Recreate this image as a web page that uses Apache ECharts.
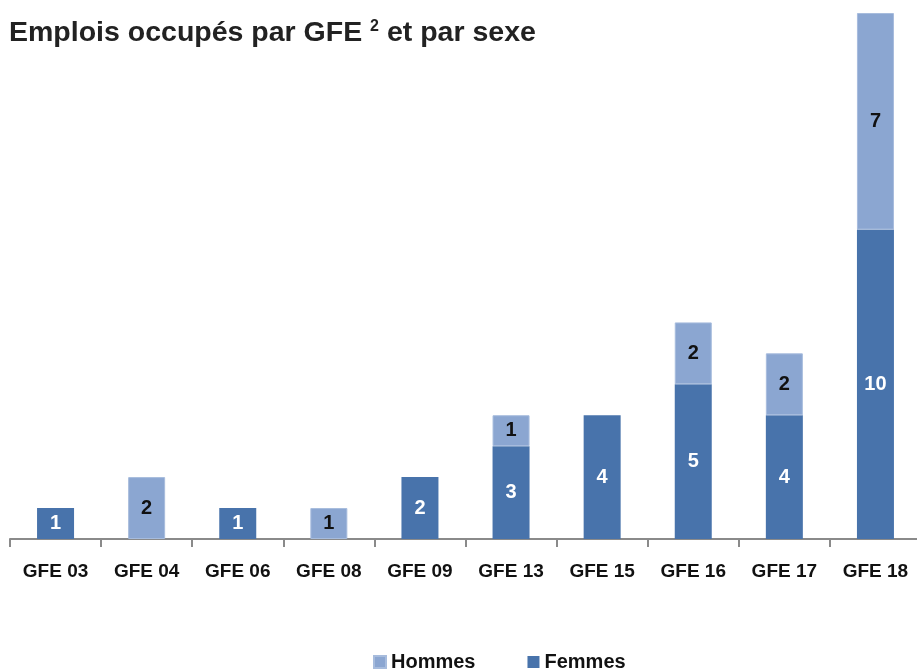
<!DOCTYPE html>
<html>
<head>
<meta charset="utf-8">
<script src="https://cdn.jsdelivr.net/npm/echarts@6/dist/echarts.min.js"></script>
<style>
    html, body { margin: 0; padding: 0; background: #fff; overflow: hidden; }
    #chart { width: 935px; height: 670px; }
</style>
</head>
<body>
<div id="chart"></div>
<script>
    const categories = ['GFE 03', 'GFE 04', 'GFE 06', 'GFE 08', 'GFE 09', 'GFE 13', 'GFE 15', 'GFE 16', 'GFE 17', 'GFE 18'];
    const femmes = [1, null, 1, null, 2, 3, 4, 5, 4, 10];
    const hommes = [null, 2, null, 1, null, 1, null, 2, 2, 7];

    const font = "'Liberation Sans', Arial, sans-serif";

    // the chart runs a bit past the right edge of the window, like the original
    let myChart = echarts.init(document.getElementById('chart'));
    let option = {
        animation: false,
        textStyle: { fontFamily: font },
        title: {
            text: 'Emplois occupés par GFE {sup|2} et par sexe',
            left: 4,
            top: 14,
            textStyle: {
                fontFamily: font,
                fontSize: 28.5,
                fontWeight: 'bold',
                color: '#222',
                rich: {
                    sup: { fontSize: 16, fontWeight: 'bold', color: '#222', verticalAlign: 'top', padding: [0, 0, 13, 0] }
                }
            }
        },
        legend: {
            data: ['Hommes', 'Femmes'],
            bottom: -7,
            left: 368,
            itemGap: 52,
            itemWidth: 12,
            itemHeight: 12,
            icon: 'rect',
            textStyle: { fontFamily: font, fontSize: 20, fontWeight: 'bold', color: '#111' }
        },
        grid: {
            left: 10,
            right: 14,
            top: 13,
            bottom: 131
        },
        xAxis: {
            type: 'category',
            data: categories,
            axisLine: { lineStyle: { color: '#8a8a8a', width: 2 } },
            axisTick: { show: true, length: 8, lineStyle: { color: '#8a8a8a', width: 2 } },
            axisLabel: { fontFamily: font, fontSize: 19, fontWeight: 'bold', color: '#111', margin: 23 }
        },
        yAxis: {
            type: 'value',
            min: 0,
            max: 17,
            show: false,
            splitLine: { show: false }
        },
        series: [{
            name: 'Femmes',
            type: 'bar',
            stack: 'total',
            barWidth: 37,
            data: femmes,
            itemStyle: { color: '#4873AB' },
            label: { show: true, position: 'inside', color: '#fff', fontFamily: font, fontSize: 20, fontWeight: 'bold' }
        }, {
            name: 'Hommes',
            type: 'bar',
            stack: 'total',
            barWidth: 37,
            data: hommes,
            itemStyle: { color: '#8BA6D1', borderColor: '#a7bcdd', borderWidth: 1 },
            label: { show: true, position: 'inside', color: '#111', fontFamily: font, fontSize: 20, fontWeight: 'bold' }
        }]
    };
    myChart.setOption(option);
</script>
</body>
</html>
